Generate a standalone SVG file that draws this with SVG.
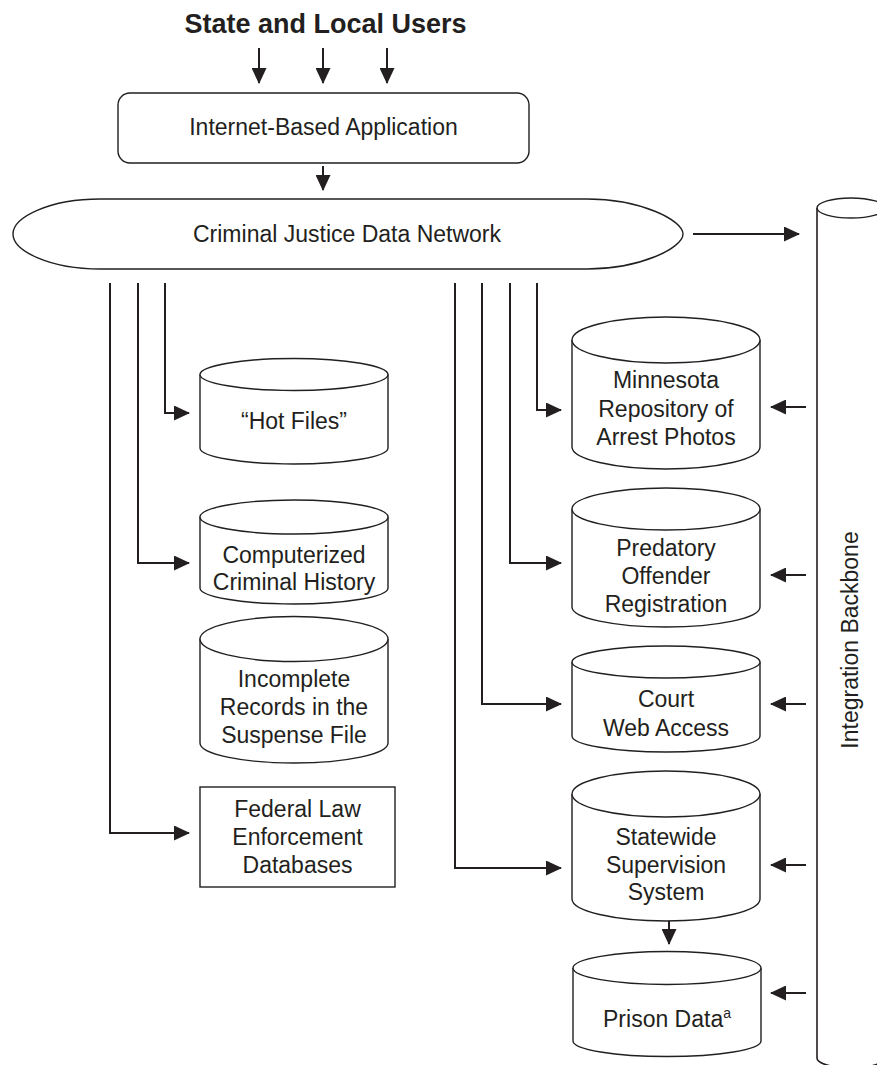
<svg xmlns="http://www.w3.org/2000/svg" width="877" height="1065" viewBox="0 0 877 1065">
<defs>
<style>
text{font-family:"Liberation Sans",Arial,Helvetica,sans-serif;font-size:23px;fill:#231f20;text-anchor:middle}
.title{font-weight:bold;font-size:27px}
.shape{fill:#fff;stroke:#231f20;stroke-width:1.4}
.conn{fill:none;stroke:#231f20;stroke-width:2;marker-end:url(#ah)}
.bb{fill:none;stroke:#231f20;stroke-width:1.6}
</style>
<marker id="ah" markerUnits="userSpaceOnUse" markerWidth="16" markerHeight="15" refX="15" refY="7.5" orient="auto" viewBox="0 0 16 15">
<path d="M0,0 L16,7.5 L0,15 Z" fill="#231f20"/>
</marker>
</defs>
<rect width="877" height="1065" fill="#fff"/>

<g id="title">
<text class="title" x="325.5" y="33">State and Local Users</text>
</g>

<g id="internet-app">
<rect class="shape" x="118" y="93" width="411" height="70" rx="12" ry="12"/>
<text x="323.5" y="135">Internet-Based Application</text>
</g>

<g id="cjdn">
<path class="shape" d="M100,199 L587,199 C640,199 683,220 683,234 C683,248 640,269 587,269 L100,269 C50,269 13,251 13,234 C13,217 50,199 100,199 Z"/>
<text x="347" y="242">Criminal Justice Data Network</text>
</g>

<g id="backbone">
<path class="bb" d="M817,208 L817,1058 A34,10 0 0 0 885,1058"/>
<ellipse class="shape" cx="851" cy="208" rx="34" ry="10"/>
<text transform="translate(858,640) rotate(-90)" x="0" y="0">Integration Backbone</text>
</g>

<g id="hot-files">
<path class="shape" d="M200,374.5 L200,448 A94,16 0 0 0 388,448 L388,374.5"/>
<ellipse class="shape" cx="294" cy="374.5" rx="94" ry="16"/>
<text x="294" y="429">“Hot Files”</text>
</g>

<g id="computerized">
<path class="shape" d="M200,517 L200,588 A94,16 0 0 0 388,588 L388,517"/>
<ellipse class="shape" cx="294" cy="517" rx="94" ry="17"/>
<text x="294" y="563">Computerized</text>
<text x="294" y="590">Criminal History</text>
</g>

<g id="incomplete">
<path class="shape" d="M200,639 L200,743 A94,20 0 0 0 388,743 L388,639"/>
<ellipse class="shape" cx="294" cy="639" rx="94" ry="22.5"/>
<text x="294" y="687">Incomplete</text>
<text x="294" y="715">Records in the</text>
<text x="294" y="743">Suspense File</text>
</g>

<g id="federal">
<rect class="shape" x="200" y="787" width="195" height="100"/>
<text x="297.5" y="817">Federal Law</text>
<text x="297.5" y="845">Enforcement</text>
<text x="297.5" y="873">Databases</text>
</g>

<g id="minnesota">
<path class="shape" d="M572,340 L572,447 A94,22 0 0 0 760,447 L760,340"/>
<ellipse class="shape" cx="666" cy="340" rx="94" ry="23"/>
<text x="666" y="388">Minnesota</text>
<text x="666" y="416.5">Repository of</text>
<text x="666" y="445">Arrest Photos</text>
</g>

<g id="predatory">
<path class="shape" d="M572,509 L572,607 A94,20 0 0 0 760,607 L760,509"/>
<ellipse class="shape" cx="666" cy="509" rx="94" ry="21"/>
<text x="666" y="556">Predatory</text>
<text x="666" y="583.5">Offender</text>
<text x="666" y="611.5">Registration</text>
</g>

<g id="court">
<path class="shape" d="M572,662 L572,736 A94,16 0 0 0 760,736 L760,662"/>
<ellipse class="shape" cx="666" cy="662" rx="94" ry="16"/>
<text x="666" y="707">Court</text>
<text x="666" y="736">Web Access</text>
</g>

<g id="statewide">
<path class="shape" d="M572,794 L572,899 A94,22 0 0 0 760,899 L760,794"/>
<ellipse class="shape" cx="666" cy="794" rx="94" ry="23"/>
<text x="666" y="845">Statewide</text>
<text x="666" y="873">Supervision</text>
<text x="666" y="900">System</text>
</g>

<g id="prison">
<path class="shape" d="M573,968 L573,1041 A94,15.5 0 0 0 761,1041 L761,968"/>
<ellipse class="shape" cx="667" cy="968" rx="94" ry="16.5"/>
<text x="667" y="1027">Prison Data<tspan font-size="14" dy="-9">a</tspan></text>
</g>

<g id="connectors">
<path class="conn" d="M259,48 V83"/>
<path class="conn" d="M323,48 V83"/>
<path class="conn" d="M387,48 V83"/>
<path class="conn" d="M323,166 V190"/>
<path class="conn" d="M693,234 H799"/>
<path class="conn" d="M165,283 V413 H189"/>
<path class="conn" d="M138,283 V563 H189"/>
<path class="conn" d="M110,283 V833 H189"/>
<path class="conn" d="M537,283 V410 H561"/>
<path class="conn" d="M510,283 V563 H561"/>
<path class="conn" d="M482,283 V704 H561"/>
<path class="conn" d="M455,283 V868 H561"/>
<path class="conn" d="M669,921 V944"/>
<path class="conn" d="M806,407 H771"/>
<path class="conn" d="M806,575 H771"/>
<path class="conn" d="M806,704 H771"/>
<path class="conn" d="M806,865 H771"/>
<path class="conn" d="M806,993 H771"/>
</g>
</svg>
